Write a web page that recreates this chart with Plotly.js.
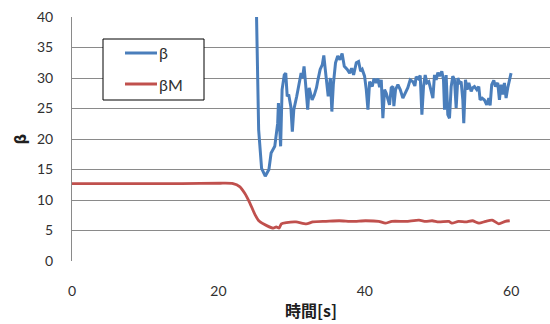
<!DOCTYPE html>
<html>
<head>
<meta charset="utf-8">
<script src="https://cdn.plot.ly/plotly-3.0.1.min.js"></script>
<style>
html,body{margin:0;padding:0;background:#fff;overflow:hidden;}
#chart{width:550px;height:324px;}
</style>
</head>
<body>
<div id="chart"></div>
<script>
// β series (time [s], value)
var betaT = [24.9, 25.2, 25.5, 25.9, 26.4, 26.9, 27.2, 27.7, 28.1, 28.2, 28.5, 28.7, 29.0, 29.2, 29.4, 29.6, 29.9, 30.1, 30.3, 30.7, 31.0, 31.3, 31.5, 31.7, 31.9, 32.2, 32.4, 32.6, 32.8, 33.1, 33.4, 33.6, 33.9, 34.2, 34.4, 34.6, 34.8, 35.0, 35.3, 35.5, 35.7, 36.0, 36.3, 36.6, 36.9, 37.2, 37.6,
  37.93, 38.20, 38.47, 38.84, 39.15, 39.43, 39.65, 39.97, 40.20, 40.43, 40.66, 41.02, 41.25, 41.56, 41.79, 42.02, 42.25, 42.47, 42.70, 42.93, 43.16, 43.38, 43.61, 43.84, 43.97, 44.20, 44.52, 44.84, 45.20, 45.57, 45.88, 46.20, 46.57, 46.84, 47.02, 47.30, 47.57, 47.80, 48.02, 48.25, 48.48, 48.75, 49.07, 49.30, 49.52, 49.75, 49.98, 50.20, 50.52, 50.75, 50.89, 51.11, 51.34, 51.57, 51.80, 52.02, 52.25, 52.48, 52.71, 52.93, 53.16, 53.39, 53.52, 53.75, 53.98, 54.21, 54.53, 54.75, 54.98, 55.30, 55.57, 55.75, 56.03, 56.34, 56.66, 56.94, 57.12, 57.34, 57.62, 57.85, 58.16, 58.39, 58.62, 58.85, 59.07, 59.30, 59.53, 59.66, 59.98];
var betaV = [60, 40.5, 21.5, 15.2, 13.9, 15.0, 17.7, 18.8, 22.6, 25.9, 18.8, 28.1, 30.5, 30.8, 27.0, 27.3, 25.3, 21.2, 24.8, 27.0, 29.2, 30.8, 30.0, 31.9, 29.2, 24.8, 28.4, 27.6, 26.4, 27.2, 28.4, 29.7, 31.4, 32.2, 33.7, 31.4, 29.4, 27.0, 30.0, 24.5, 28.9, 32.5, 33.6, 33.0, 34.0, 31.9, 31.4,
  30.8, 31.6, 30.5, 32.5, 32.7, 31.1, 31.4, 30.3, 28.1, 24.8, 29.4, 28.6, 29.9, 29.2, 29.9, 28.5, 29.7, 23.4, 28.1, 27.5, 26.4, 25.6, 28.4, 28.6, 25.4, 28.1, 28.9, 28.1, 26.7, 27.5, 28.4, 29.7, 29.4, 28.7, 30.2, 29.9, 30.4, 24.0, 28.6, 30.5, 29.2, 29.4, 27.5, 26.7, 30.5, 29.7, 30.9, 30.3, 31.1, 29.7, 24.8, 30.5, 24.0, 23.4, 28.6, 30.3, 29.7, 25.1, 30.0, 29.2, 29.4, 26.4, 22.6, 29.7, 28.1, 29.2, 27.8, 28.4, 28.6, 28.1, 28.6, 26.4, 26.7, 26.4, 25.6, 26.7, 25.5, 28.9, 29.6, 28.6, 29.2, 26.4, 28.9, 27.3, 29.2, 26.7, 28.4, 29.2, 30.8];

// βM series (time [s], value)
var betaMT = [0, 5, 10, 15, 20.2, 22.0, 22.9, 23.6, 24.3, 25.0, 25.6, 26.6, 27.5, 27.9, 28.3, 28.6, 29.3, 30.6, 32.0, 32.9, 34.7, 36.5, 38.3, 40.1, 41.9, 42.8, 43.7, 45.6, 47.4, 48.3, 49.2, 50.1, 51.5, 51.9, 52.8, 53.8, 54.7, 55.6, 56.5, 57.4, 58.3, 59.2, 59.8];
var betaMV = [12.7, 12.7, 12.7, 12.7, 12.75, 12.7, 12.2, 11.1, 9.5, 7.6, 6.5, 5.8, 5.4, 5.6, 5.4, 6.1, 6.3, 6.4, 6.1, 6.4, 6.5, 6.6, 6.5, 6.6, 6.5, 6.2, 6.5, 6.5, 6.7, 6.5, 6.6, 6.4, 6.5, 6.2, 6.5, 6.4, 6.6, 6.2, 6.5, 6.7, 6.1, 6.5, 6.6];

var xTicks = [0, 20, 40, 60];
var yTicks = [0, 5, 10, 15, 20, 25, 30, 35, 40];
var seriesNames = ['β', 'βM'];
var seriesColors = ['#4a7ebb', '#c0504d'];
var xTitle = '時間[s]';
var yTitle = 'β';

var tickFont = {family: 'Lato, "Open Sans", sans-serif', size: 14, color: '#303030'};

var traces = [
  {x: betaT, y: betaV, name: seriesNames[0], type: 'scatter', mode: 'lines',
   line: {color: seriesColors[0], width: 3}},
  {x: betaMT, y: betaMV, name: seriesNames[1], type: 'scatter', mode: 'lines',
   line: {color: seriesColors[1], width: 2.8, shape: 'spline', smoothing: 0.6}}
];

// Legend box drawn by hand (paper coordinates of the plot area)
var M = {l: 72, r: 0, t: 17, b: 63}, W = 550, H = 324;
var pw = W - M.l - M.r, ph = H - M.t - M.b;
function px(x) { return (x - M.l) / pw; }
function py(y) { return 1 - (y - M.t) / ph; }

var shapes = [
  {type: 'rect', xref: 'paper', yref: 'paper', x0: px(103), x1: px(204), y0: py(39), y1: py(100),
   line: {color: '#000000', width: 1}, fillcolor: '#ffffff', layer: 'above'}
];
var annotations = [];
var rowY = [53, 84];
seriesNames.forEach(function (n, i) {
  shapes.push({type: 'line', xref: 'paper', yref: 'paper', x0: px(125), x1: px(157), y0: py(rowY[i]), y1: py(rowY[i]),
    line: {color: seriesColors[i], width: 3}, layer: 'above'});
  annotations.push({xref: 'paper', yref: 'paper', x: px(157), y: py(rowY[i]), xanchor: 'left', yanchor: 'middle',
    text: n, showarrow: false, font: {family: 'Lato, "Open Sans", sans-serif', size: 16, color: '#303030'}});
});

var layout = {
  width: W, height: H,
  margin: M,
  paper_bgcolor: '#ffffff', plot_bgcolor: '#ffffff',
  showlegend: false,
  shapes: shapes,
  annotations: annotations,
  xaxis: {
    range: [0, 65.3], tickvals: xTicks, ticktext: xTicks.map(String),
    showgrid: false, zeroline: false, showline: false,
    ticks: 'outside', ticklen: 17, tickcolor: 'rgba(0,0,0,0)',
    tickfont: tickFont,
    title: {text: xTitle, font: {family: '"Noto Sans CJK JP", sans-serif', size: 16, color: '#202020', weight: 'bold'}, standoff: 8}
  },
  yaxis: {
    range: [0, 40], tickvals: yTicks, ticktext: yTicks.map(String),
    showgrid: true, gridcolor: '#8a8a8a', gridwidth: 1,
    zeroline: false, showline: true, linecolor: '#8a8a8a', linewidth: 1,
    ticks: 'outside', ticklen: 15, tickcolor: 'rgba(0,0,0,0)',
    tickfont: tickFont,
    title: {text: yTitle, font: {family: '"DejaVu Sans", sans-serif', size: 15, color: '#202020', weight: 'bold'}, standoff: 6}
  }
};

Plotly.newPlot('chart', traces, layout, {staticPlot: true, displayModeBar: false});
</script>
</body>
</html>
